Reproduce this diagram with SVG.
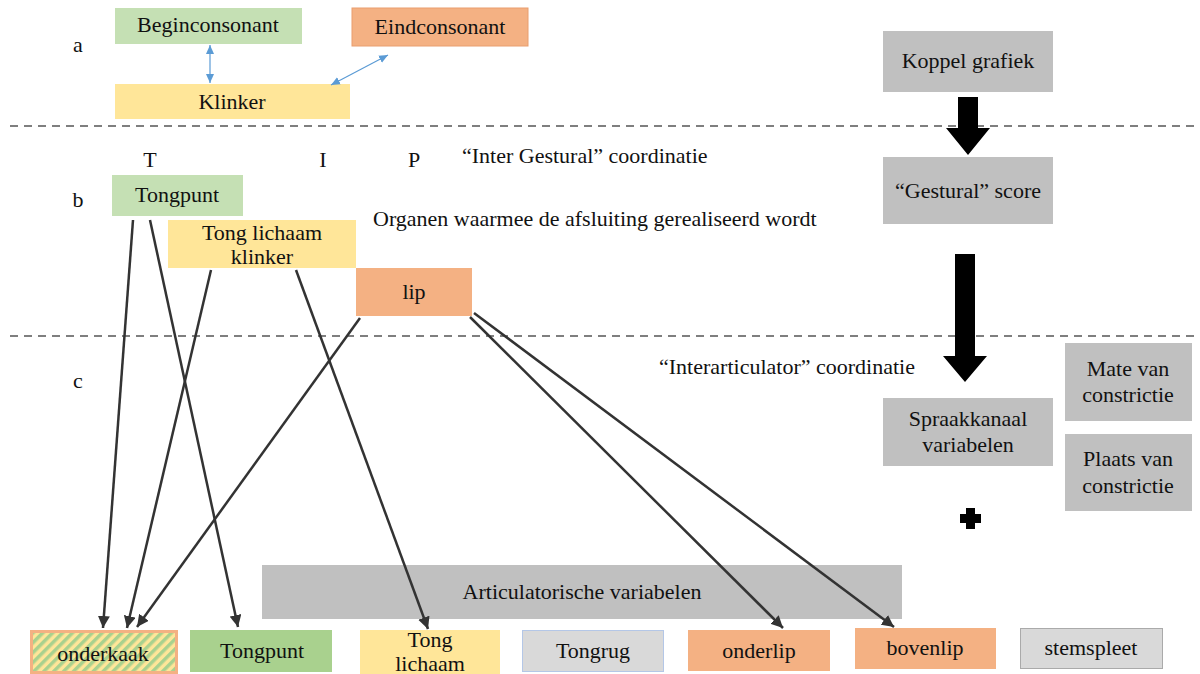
<svg xmlns="http://www.w3.org/2000/svg" width="1200" height="674" viewBox="0 0 1200 674" font-family="Liberation Serif, Times New Roman, serif">
<defs>
<style>
text{font-family:Liberation Serif,Tinos,Times New Roman,DejaVu Serif,Noto Serif,serif;font-size:22px;fill:#111;}
.c{text-anchor:middle;}
.green{fill:#c5e0b4;}
.green2{fill:#a9d18e;}
.yellow{fill:#ffe699;}
.orange{fill:#f4b183;}
.gray{fill:#c0c0c0;}
.lgray{fill:#d9d9d9;}
.dash{stroke:#555;stroke-width:1.5;stroke-dasharray:8,6;fill:none;}
.conn{stroke:#333;stroke-width:2.5;fill:none;marker-end:url(#ah);}
.blue{stroke:#5b9bd5;stroke-width:1.2;fill:none;marker-start:url(#bh);marker-end:url(#bh);}
</style>
<marker id="ah" markerUnits="userSpaceOnUse" markerWidth="14" markerHeight="12" refX="12" refY="6" orient="auto">
<path d="M0,0 L12,6 L0,12 Z" fill="#333"/>
</marker>
<marker id="bh" markerUnits="userSpaceOnUse" markerWidth="10" markerHeight="10" refX="9" refY="4" orient="auto-start-reverse">
<path d="M0,0 L9,4 L0,8 Z" fill="#5b9bd5"/>
</marker>
<pattern id="hatch" patternUnits="userSpaceOnUse" width="7" height="7" patternTransform="rotate(45)">
<rect width="7" height="7" fill="#ffe699"/>
<rect width="3.5" height="7" fill="#a9d18e"/>
</pattern>
</defs>
<rect width="1200" height="674" fill="#fff"/>

<g id="labels">
<text x="78" y="52" class="c">a</text>
<text x="78" y="207" class="c">b</text>
<text x="78" y="388" class="c">c</text>
<text x="150" y="167" class="c">T</text>
<text x="323" y="167" class="c">I</text>
<text x="414" y="167" class="c">P</text>
<text x="462" y="163">“Inter Gestural” coordinatie</text>
<text x="373" y="226">Organen waarmee de afsluiting gerealiseerd wordt</text>
<text x="787" y="374" class="c">“Interarticulator” coordinatie</text>
</g>

<g id="separators">
<line x1="10" y1="126" x2="1200" y2="126" class="dash"/>
<line x1="10" y1="336" x2="1200" y2="336" class="dash"/>
</g>

<g id="n-beginconsonant"><rect x="115" y="8" width="187" height="36" class="green"/><text x="208" y="32" class="c">Beginconsonant</text></g>
<g id="n-eindconsonant"><rect x="352" y="8" width="176" height="38" class="orange" stroke="#e99e6e" stroke-width="1"/><text x="440" y="34" class="c">Eindconsonant</text></g>
<g id="n-klinker"><rect x="115" y="84" width="235" height="35" class="yellow"/><text x="232" y="109" class="c">Klinker</text></g>

<g id="n-koppel"><rect x="883" y="31" width="170" height="61" class="gray"/><text x="968" y="68" class="c">Koppel grafiek</text></g>
<g id="n-gestural"><rect x="883" y="157" width="170" height="67" class="gray"/><text x="968" y="198" class="c">“Gestural” score</text></g>
<g id="n-spraak"><rect x="883" y="398" width="170" height="68" class="gray"/><text x="968" y="426" class="c">Spraakkanaal</text><text x="968" y="452" class="c">variabelen</text></g>
<g id="n-mate"><rect x="1065" y="343" width="127" height="78" class="gray"/><text x="1128" y="376" class="c">Mate van</text><text x="1128" y="402" class="c">constrictie</text></g>
<g id="n-plaats"><rect x="1065" y="434" width="127" height="77" class="gray"/><text x="1128" y="466" class="c">Plaats van</text><text x="1128" y="493" class="c">constrictie</text></g>
<g id="n-plus"><path d="M966,508 h9 v6 h6 v9 h-6 v6 h-9 v-6 h-6 v-9 h6 Z" fill="#000"/></g>

<g id="n-tongpunt-b"><rect x="112" y="175" width="131" height="41" class="green"/><text x="177" y="202" class="c">Tongpunt</text></g>
<g id="n-tonglichaam-b"><rect x="168" y="220" width="188" height="48" class="yellow"/><text x="262" y="240" class="c">Tong lichaam</text><text x="262" y="264" class="c">klinker</text></g>
<g id="n-lip"><rect x="356" y="268" width="116" height="48" class="orange"/><text x="414" y="299" class="c">lip</text></g>

<g id="n-artvar"><rect x="262" y="565" width="640" height="54" class="gray"/><text x="582" y="599" class="c">Articulatorische variabelen</text></g>

<g id="n-onderkaak"><rect x="31.5" y="631.5" width="145" height="41" fill="url(#hatch)" stroke="#f4b183" stroke-width="3"/><text x="103" y="661" class="c">onderkaak</text></g>
<g id="n-tongpunt"><rect x="190" y="630" width="142" height="42" class="green2"/><text x="262" y="658" class="c">Tongpunt</text></g>
<g id="n-tonglichaam"><rect x="360" y="630" width="140" height="44" class="yellow"/><text x="430" y="647" class="c">Tong</text><text x="430" y="671" class="c">lichaam</text></g>
<g id="n-tongrug"><rect x="522.5" y="630.5" width="141" height="41" class="lgray" stroke="#b4c7e7" stroke-width="1"/><text x="593" y="658" class="c">Tongrug</text></g>
<g id="n-onderlip"><rect x="688" y="630" width="142" height="41" class="orange"/><text x="759" y="658" class="c">onderlip</text></g>
<g id="n-bovenlip"><rect x="855" y="628" width="141" height="41" class="orange"/><text x="925" y="655" class="c">bovenlip</text></g>
<g id="n-stemspleet"><rect x="1020.5" y="628.5" width="142" height="40" class="lgray" stroke="#aaa" stroke-width="1"/><text x="1091" y="655" class="c">stemspleet</text></g>

<g id="connectors">
<line x1="210" y1="45" x2="210" y2="83" class="blue"/>
<line x1="388" y1="55" x2="331" y2="85" class="blue"/>
<path d="M958,97 h20 v31 h12 l-22,27 l-22,-27 h12 Z" fill="#000"/>
<path d="M955,254 h20 v102 h12 l-22,26 l-22,-26 h12 Z" fill="#000"/>
<line x1="133" y1="220" x2="103" y2="628" class="conn"/>
<line x1="150" y1="220" x2="238" y2="627" class="conn"/>
<line x1="211" y1="270" x2="127" y2="628" class="conn"/>
<line x1="296" y1="270" x2="428" y2="629" class="conn"/>
<line x1="360" y1="318" x2="137" y2="627" class="conn"/>
<line x1="470" y1="317" x2="783" y2="628" class="conn"/>
<line x1="474" y1="313" x2="894" y2="627" class="conn"/>
</g>
</svg>
